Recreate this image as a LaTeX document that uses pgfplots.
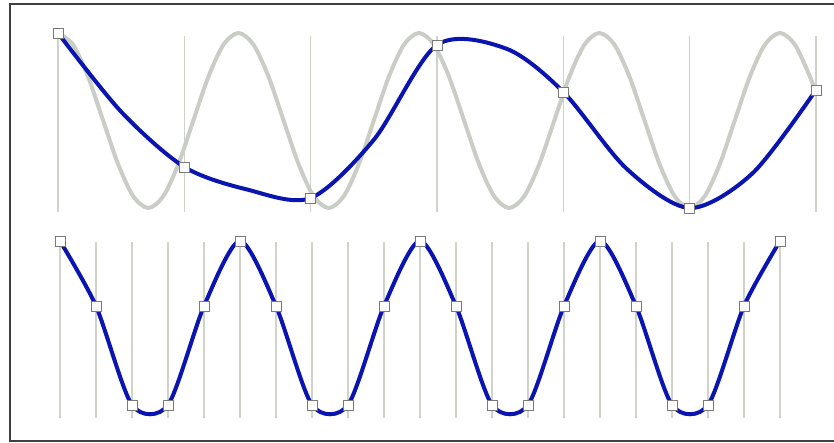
\documentclass[border=0pt]{standalone}
\usepackage{pgfplots}
\pgfplotsset{compat=1.18}
\definecolor{frm}{HTML}{404040}
\definecolor{sig}{HTML}{CACDC5}
\definecolor{vline}{HTML}{D0D3C9}
\definecolor{blu}{HTML}{0A14B0}
\definecolor{mk}{HTML}{7A7A7A}
\begin{document}
\begin{tikzpicture}[x=1pt,y=1pt]
\draw[frm, line width=1pt] (445,219.25) -- (5,219.25) -- (5,1) -- (445,1);
% top panel
\begin{axis}[at={(29pt,117.5pt)}, anchor=south west, scale only axis,
  width=379pt, height=87.5pt, xmin=0, xmax=6, ymin=-1, ymax=1,
  hide axis, clip=false]
\pgfplotsinvokeforeach{0,...,6}{\addplot[vline, line width=0.75pt] coordinates {(#1,-1.046) (#1,0.966)};}
\addplot[sig, line width=2pt, smooth] coordinates {
(0,1) (0.1190,0.866) (0.2381,0.5) (0.3571,0) (0.4762,-0.5) (0.5952,-0.866)
(0.7143,-1) (0.8333,-0.866) (0.9524,-0.5) (1.0714,0) (1.1905,0.5) (1.3095,0.866)
(1.4286,1) (1.5476,0.866) (1.6667,0.5) (1.7857,0) (1.9048,-0.5) (2.0238,-0.866)
(2.1429,-1) (2.2619,-0.866) (2.3810,-0.5) (2.5,0) (2.6190,0.5) (2.7381,0.866)
(2.8571,1) (2.9762,0.866) (3.0952,0.5) (3.2143,0) (3.3333,-0.5) (3.4524,-0.866)
(3.5714,-1) (3.6905,-0.866) (3.8095,-0.5) (3.9286,0) (4.0476,0.5) (4.1667,0.866)
(4.2857,1) (4.4048,0.866) (4.5238,0.5) (4.6429,0) (4.7619,-0.5) (4.8810,-0.866)
(5.0,-1) (5.1190,-0.866) (5.2381,-0.5) (5.3571,0) (5.4762,0.5) (5.5952,0.866)
(5.7143,1) (5.8333,0.866) (5.9524,0.5) (6,0.309)
};
\addplot[blu, line width=2pt, smooth] coordinates {
(0,1) (0.5,0.10) (1,-0.531) (1.5,-0.79) (2,-0.886) (2.5,-0.22) (3,0.863)
(3.55,0.82) (4,0.326) (4.5,-0.55) (5,-1.0) (5.5,-0.60) (6,0.349)
};
\addplot[only marks, mark=square*, mark size=2.5pt,
  mark options={fill=white, draw=mk, line width=0.4pt}] coordinates {
(0,1) (1,-0.531) (2,-0.886) (3,0.863) (4,0.326) (5,-1.0) (6,0.349)
};
\end{axis}
% bottom panel
\begin{axis}[at={(30pt,15pt)}, anchor=south west, scale only axis,
  width=360pt, height=86pt, xmin=0, xmax=20, ymin=-1, ymax=1,
  hide axis, clip=false]
\pgfplotsinvokeforeach{0,...,20}{\addplot[vline, line width=0.75pt] coordinates {(#1,-1.06) (#1,0.99)};}
\addplot[blu, line width=2pt, smooth, tension=0.45, mark=square*, mark size=2.5pt,
  mark options={fill=white, draw=mk, line width=0.4pt}] coordinates {
(0,1) (1,0.244) (2,-0.907) (3,-0.907) (4,0.244)
(5,1) (6,0.244) (7,-0.907) (8,-0.907) (9,0.244)
(10,1) (11,0.244) (12,-0.907) (13,-0.907) (14,0.244)
(15,1) (16,0.244) (17,-0.907) (18,-0.907) (19,0.244)
(20,1)
};
\end{axis}
\pgfresetboundingbox
\path[use as bounding box] (0,0) rectangle (417,221.5);
\end{tikzpicture}
\end{document}
